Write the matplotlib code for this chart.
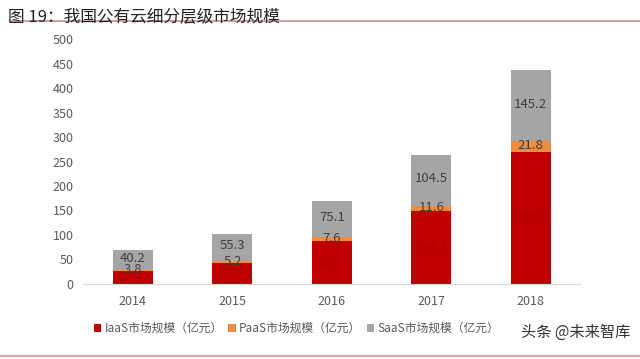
import matplotlib.pyplot as plt
import numpy as np

plt.rcParams['font.family'] = ['Noto Sans CJK SC', 'DejaVu Sans']

years = ["2014", "2015", "2016", "2017", "2018"]
iaas = [25.0, 42.0, 87.4, 148.1, 270.1]
paas = [3.8, 5.2, 7.6, 11.6, 21.8]
saas = [40.2, 55.3, 75.1, 104.5, 145.2]
names = ["IaaS市场规模（亿元）", "PaaS市场规模（亿元）", "SaaS市场规模（亿元）"]
colors = ["#c00000", "#f08c3c", "#a5a5a5"]

fig = plt.figure(figsize=(6.4, 3.59), dpi=100)
ax = fig.add_axes([0.13, 0.21, 0.777, 0.68])

x = np.arange(len(years))
w = 0.4
b1 = ax.bar(x, iaas, w, color=colors[0], label=names[0])
b2 = ax.bar(x, paas, w, bottom=iaas, color=colors[1], label=names[1])
bottom3 = np.array(iaas) + np.array(paas)
b3 = ax.bar(x, saas, w, bottom=bottom3, color=colors[2], label=names[2])

for i in range(len(years)):
    ax.text(x[i], iaas[i] / 2, f"{iaas[i]:.1f}", ha="center", va="center",
            fontsize=9.5, color="#b00000")
    ax.text(x[i], iaas[i] + paas[i] / 2 + 1, f"{paas[i]:.1f}", ha="center",
            va="center", fontsize=9.5, color="#404040")
    ax.text(x[i], bottom3[i] + saas[i] / 2 + 3, f"{saas[i]:.1f}", ha="center",
            va="center", fontsize=9.5, color="#404040")

ax.set_xlim(-0.5, 4.5)
ax.set_ylim(0, 500)
ax.set_yticks(range(0, 501, 50))
ax.set_xticks(x)
ax.set_xticklabels(years)
for s in ["top", "right", "left"]:
    ax.spines[s].set_visible(False)
ax.spines["bottom"].set_color("#d9d9d9")
ax.tick_params(axis="both", length=0, labelsize=9, colors="#595959")
ax.tick_params(axis="y", pad=7)
ax.tick_params(axis="x", pad=8)

leg = fig.legend(handles=[b1, b2, b3], loc="center left",
                 bbox_to_anchor=(0.13, 0.085), ncol=3, frameon=False,
                 fontsize=8.5, handlelength=0.6, handleheight=0.6,
                 handletextpad=0.3, columnspacing=0.5)
for t in leg.get_texts():
    t.set_color("#595959")

fig.text(0.012, 0.975, "图 19：我国公有云细分层级市场规模", fontsize=12,
         va="top", ha="left", color="#222222")
fig.add_artist(plt.Line2D([0.015, 1.0], [0.942, 0.942], color="#c9a3a3", lw=1.5))
fig.add_artist(plt.Line2D([0.0, 1.0], [0.008, 0.008], color="#d8a8a0", lw=1.5))

fig.text(0.985, 0.075, "头条 @未来智库", fontsize=11, ha="right", va="center",
         color="#333333",
         bbox=dict(facecolor="white", edgecolor="none", pad=1, alpha=0.85))

fig.savefig("out.png", dpi=100)
